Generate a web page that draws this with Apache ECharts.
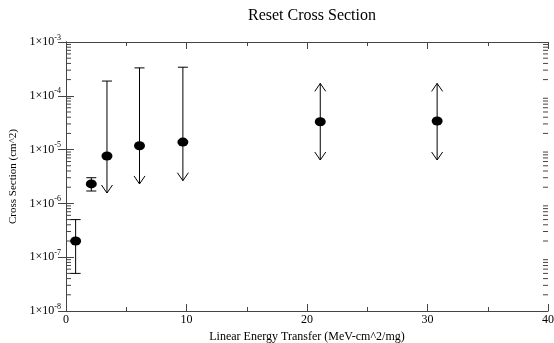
<!DOCTYPE html>
<html>
<head>
<meta charset="utf-8">
<script src="https://cdn.jsdelivr.net/npm/echarts@6/dist/echarts.min.js"></script>
<style>html,body{margin:0;padding:0;background:#fff;}#c{width:554px;height:343px;}</style>
</head>
<body>
<div id="c"></div>
<script>
// Data
var let_x    = [0.8,    2.1,    3.4,    6.1,    9.7,    21.1,   30.8];
var cross_y  = [2.0e-7, 2.3e-6, 7.6e-6, 1.18e-5, 1.38e-5, 3.3e-5, 3.4e-5];
var err_low  = [5.0e-8, 1.7e-6, 1.56e-6, 2.3e-6, 2.64e-6, 6.4e-6, 6.4e-6];
var err_high = [5.0e-7, 3.0e-6, 1.88e-4, 3.3e-4, 3.4e-4, 1.7e-4, 1.7e-4];
var low_kind = ['cap', 'cap', 'arrow', 'arrow', 'arrow', 'arrow', 'arrow'];
var high_kind= ['cap', 'cap', 'cap', 'cap', 'cap', 'arrow', 'arrow'];
var x_ticks  = [0, 10, 20, 30, 40];
var y_decades = [-8, -7, -6, -5, -4, -3];

var serif = '"Liberation Serif", "DejaVu Serif", serif';
var frameColor = '#444';

var errData = let_x.map(function (x, i) {
  return [x, cross_y[i], err_low[i], err_high[i], low_kind[i], high_kind[i]];
});
var pointData = let_x.map(function (x, i) { return [x, cross_y[i]]; });

var minorY = [];
for (var d = 0; d < y_decades.length - 1; d++) {
  for (var k = 2; k <= 9; k++) minorY.push(k * Math.pow(10, y_decades[d]));
}

var chart = echarts.init(document.getElementById('c'));
chart.setOption({
  animation: false,
  backgroundColor: '#fff',
  title: {
    text: 'Reset Cross Section',
    left: 307, top: 3, textAlign: 'center',
    textStyle: { fontFamily: serif, fontSize: 16, fontWeight: 'normal', color: '#000' }
  },
  grid: { left: 66, right: 6, top: 42, bottom: 32, outerBoundsMode: 'none', containLabel: false },
  xAxis: [{
    type: 'value', min: 0, max: 40, interval: 10,
    name: 'Linear Energy Transfer (MeV-cm^2/mg)',
    nameLocation: 'middle', nameGap: 13,
    nameTextStyle: { fontFamily: serif, fontSize: 12, color: '#000' },
    axisLine: { lineStyle: { color: frameColor, width: 1 } },
    axisTick: { inside: true, length: 7, lineStyle: { color: frameColor } },
    minorTick: { show: true, splitNumber: 2, length: 4, lineStyle: { color: frameColor } },
    splitLine: { show: false },
    axisLabel: { fontFamily: serif, fontSize: 12, color: '#000', margin: 3,
      formatter: function (v) { return x_ticks.indexOf(v) >= 0 ? String(v) : ''; } }
  }, {
    type: 'value', min: 0, max: 40, interval: 10, position: 'top',
    axisLine: { show: true, lineStyle: { color: frameColor, width: 1 } },
    axisTick: { show: true, inside: true, length: 7, lineStyle: { color: frameColor } },
    minorTick: { show: true, splitNumber: 2, length: 4, lineStyle: { color: frameColor } },
    splitLine: { show: false },
    axisLabel: { show: false }
  }],
  yAxis: [{
    type: 'log', logBase: 10, min: 1e-8, max: 1e-3,
    name: 'Cross Section (cm^2)',
    nameLocation: 'middle', nameGap: 45,
    nameTextStyle: { fontFamily: serif, fontSize: 11, color: '#000' },
    axisLine: { show: true, lineStyle: { color: frameColor, width: 1 } },
    axisTick: { show: true, inside: true, length: 8, lineStyle: { color: frameColor } },
    splitLine: { show: false },
    axisLabel: {
      fontFamily: serif, color: '#000', margin: 5,
      formatter: function (v) {
        var e = Math.round(Math.log10(v));
        return '{b|1×10}{s|' + e + '}';
      },
      rich: {
        b: { fontFamily: serif, fontSize: 12, color: '#000' },
        s: { fontFamily: serif, fontSize: 8, color: '#000', verticalAlign: 'top', padding: [0, 0, 9, 0] }
      }
    }
  }, {
    type: 'log', logBase: 10, min: 1e-8, max: 1e-3, position: 'right',
    axisLine: { show: true, lineStyle: { color: frameColor, width: 1 } },
    axisTick: { show: true, inside: true, length: 8, lineStyle: { color: frameColor } },
    splitLine: { show: false },
    axisLabel: { show: false }
  }],
  series: [{
    type: 'custom',
    name: 'minorY',
    silent: true,
    clip: false,
    data: minorY.map(function (v) { return [0, v]; }),
    renderItem: function (params, api) {
      var v = api.value(1);
      var pl = api.coord([0, v]);
      var pr = api.coord([40, v]);
      var len = 5;
      return {
        type: 'group',
        children: [
          { type: 'line', shape: { x1: pl[0], y1: pl[1], x2: pl[0] + len, y2: pl[1] }, style: { stroke: frameColor, lineWidth: 1 } },
          { type: 'line', shape: { x1: pr[0], y1: pr[1], x2: pr[0] - len, y2: pr[1] }, style: { stroke: frameColor, lineWidth: 1 } }
        ]
      };
    }
  }, {
    type: 'custom',
    name: 'errors',
    silent: true,
    clip: false,
    data: errData,
    encode: { x: 0, y: [1, 2, 3] },
    renderItem: function (params, api) {
      var x = api.value(0);
      var lo = api.coord([x, api.value(2)]);
      var hi = api.coord([x, api.value(3)]);
      var loKind = errData[params.dataIndex][4];
      var hiKind = errData[params.dataIndex][5];
      var st = { stroke: '#000', lineWidth: 1, fill: null };
      var ch = [{ type: 'line', shape: { x1: lo[0], y1: lo[1], x2: hi[0], y2: hi[1] }, style: st }];
      var cw = 5, aw = 5.5, ah = 8;
      function endMark(p, kind, dir) {
        if (kind === 'cap') {
          ch.push({ type: 'line', shape: { x1: p[0] - cw, y1: p[1], x2: p[0] + cw, y2: p[1] }, style: st });
        } else {
          ch.push({ type: 'polyline', shape: { points: [[p[0] - aw, p[1] - dir * ah], [p[0], p[1]], [p[0] + aw, p[1] - dir * ah]] }, style: st });
        }
      }
      endMark(lo, loKind, 1);
      endMark(hi, hiKind, -1);
      return { type: 'group', children: ch };
    }
  }, {
    type: 'scatter',
    name: 'points',
    data: pointData,
    symbol: 'circle',
    symbolSize: [11, 9],
    itemStyle: { color: '#000', opacity: 1 },
    z: 5
  }]
});
</script>
</body>
</html>
